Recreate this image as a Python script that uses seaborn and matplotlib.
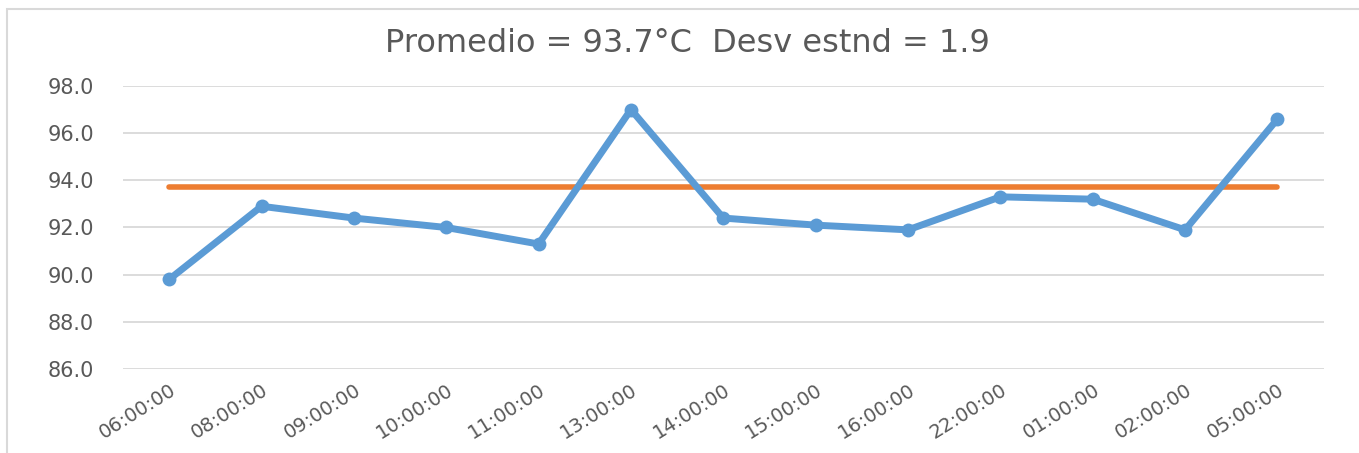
import pandas as pd
import seaborn as sns
import matplotlib.pyplot as plt
from matplotlib.patches import Rectangle

# datos
horas = ["06:00:00", "08:00:00", "09:00:00", "10:00:00", "11:00:00", "13:00:00",
         "14:00:00", "15:00:00", "16:00:00", "22:00:00", "01:00:00", "02:00:00", "05:00:00"]
temperatura = [89.8, 92.9, 92.4, 92.0, 91.3, 97.0, 92.4, 92.1, 91.9, 93.3, 93.2, 91.9, 96.6]
promedio = [93.7] * len(horas)
titulo = "Promedio = 93.7°C  Desv estnd = 1.9"

df = pd.DataFrame({"hora": horas, "temp": temperatura, "prom": promedio})

sns.set_style("white")
plt.rcParams["font.family"] = ["DejaVu Sans"]

fig = plt.figure(figsize=(13.59, 4.53), dpi=100)
ax = fig.add_axes([0.0905, 0.1854, 0.8835, 0.6248])

sns.lineplot(data=df, x="hora", y="temp", ax=ax, color="#5B9BD5", linewidth=5,
             marker="o", markersize=10, markeredgewidth=0, zorder=3)
sns.lineplot(data=df, x="hora", y="prom", ax=ax, color="#ED7D31", linewidth=4,
             solid_capstyle="round", zorder=2)

ax.set_xlim(-0.5, len(horas) - 0.5)
ax.set_ylim(86, 98)
ax.set_yticks([86, 88, 90, 92, 94, 96, 98])
ax.set_yticklabels([f"{v:.1f}" for v in [86, 88, 90, 92, 94, 96, 98]])
ax.yaxis.grid(True, color="#D9D9D9", linewidth=1.3)
ax.set_axisbelow(True)
for s in ax.spines.values():
    s.set_visible(False)

ax.tick_params(axis="y", length=0, pad=21, labelsize=15, labelcolor="#595959")
ax.tick_params(axis="x", length=0, pad=8, labelsize=14, labelcolor="#595959")
plt.setp(ax.get_xticklabels(), rotation=32, ha="right", rotation_mode="anchor")
ax.set_xlabel("")
ax.set_ylabel("")

fig.text(0.506, 0.905, titulo, ha="center", va="center", fontsize=23, color="#595959")

# marco del gráfico
fig.patches.append(Rectangle((0.0052, -0.05), 1.2, 1.03, transform=fig.transFigure,
                             fill=False, edgecolor="#D9D9D9", linewidth=1.5))

fig.savefig("out.png", dpi=100)
plt.close()
